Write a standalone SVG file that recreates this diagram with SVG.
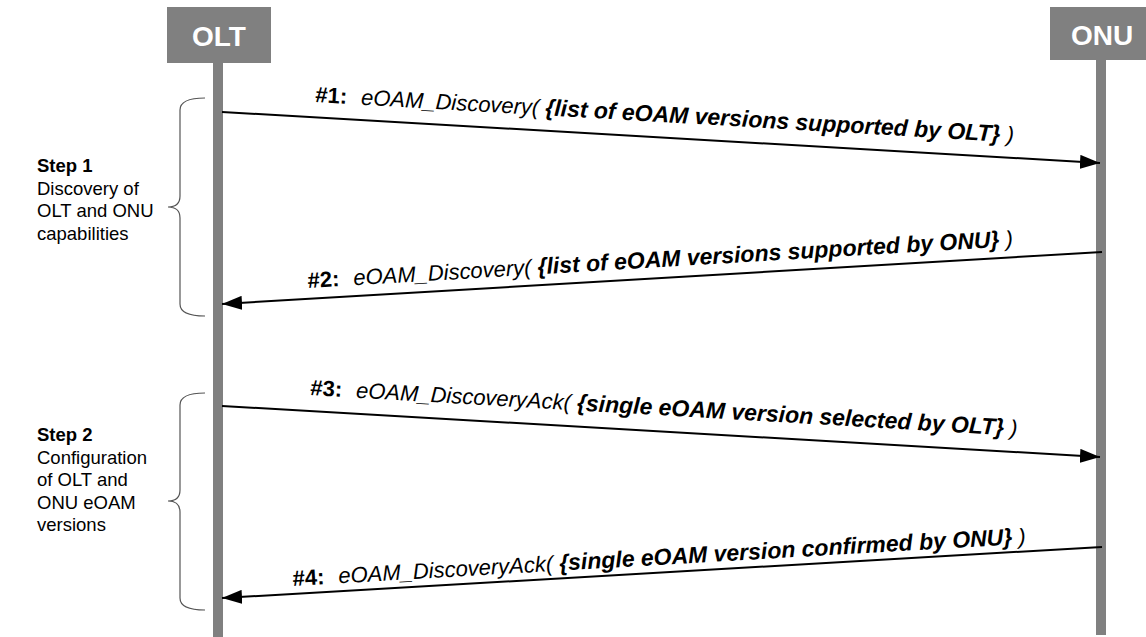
<svg xmlns="http://www.w3.org/2000/svg" width="1146" height="637" viewBox="0 0 1146 637">
<defs>
<style>
.hdr{fill:#808080}
.hdrt{fill:#fff;font-family:"Liberation Sans",Arial,sans-serif;font-weight:bold;font-size:28px;text-anchor:middle}
.life{fill:#808080}
.msg{stroke:#000;stroke-width:2;fill:none;marker-end:url(#ah)}
.brace{stroke:#555;stroke-width:1.2;fill:none}
.st{font-family:"Liberation Sans",Arial,sans-serif;font-size:18.5px;fill:#000}
.mt{font-family:"Liberation Sans",Arial,sans-serif;font-size:22px;fill:#000;font-style:italic}
.b{font-weight:bold;font-size:23px}
.n{font-weight:bold;font-style:normal}
.sb{font-weight:bold}
</style>
<marker id="ah" markerWidth="22" markerHeight="14" refX="20" refY="7" orient="auto" markerUnits="userSpaceOnUse">
<path d="M0,0 L20,7 L0,14 Z" fill="#000"/>
</marker>
</defs>
<g id="olt">
<rect class="life" x="213" y="60" width="10" height="577"/>
<rect class="hdr" x="167" y="7" width="104" height="56"/>
<text class="hdrt" x="219" y="46">OLT</text>
</g>
<g id="onu">
<rect class="life" x="1096" y="58" width="10" height="577"/>
<rect class="hdr" x="1050" y="7" width="100" height="53"/>
<text class="hdrt" x="1102" y="45">ONU</text>
</g>
<g id="step1">
<path class="brace" d="M205,98 Q180,98 180,110 L180,196 Q180,207 168,207 Q180,207 180,218 L180,304 Q180,316 205,316"/>
<text class="st" x="37" y="172"><tspan class="sb">Step 1</tspan><tspan x="37" dy="22.5">Discovery of</tspan><tspan x="37" dy="22.5">OLT and ONU</tspan><tspan x="37" dy="22.5">capabilities</tspan></text>
</g>
<g id="step2">
<path class="brace" d="M205,393 Q180,393 180,405 L180,490 Q180,501 168,501 Q180,501 180,512 L180,598 Q180,610 205,610"/>
<text class="st" x="37" y="441"><tspan class="sb">Step 2</tspan><tspan x="37" dy="22.5">Configuration</tspan><tspan x="37" dy="22.5">of OLT and</tspan><tspan x="37" dy="22.5">ONU eOAM</tspan><tspan x="37" dy="22.5">versions</tspan></text>
</g>
<g id="connectors">
<line class="msg" x1="222" y1="112" x2="1100" y2="163"/>
<line class="msg" x1="1102" y1="252" x2="222" y2="304"/>
<line class="msg" x1="222" y1="406" x2="1100" y2="457"/>
<line class="msg" x1="1102" y1="547" x2="222" y2="598"/>
</g>
<g id="labels">
<text class="mt" transform="translate(315,102) rotate(3.3)"><tspan class="n">#1:</tspan><tspan dx="14">eOAM_Discovery( </tspan><tspan class="b">{list of eOAM versions supported by OLT}</tspan> )</text>
<text class="mt" transform="translate(308,288) rotate(-3.4)"><tspan class="n">#2:</tspan><tspan dx="14">eOAM_Discovery( </tspan><tspan class="b">{list of eOAM versions supported by ONU}</tspan> )</text>
<text class="mt" transform="translate(310,395) rotate(3.3)"><tspan class="n">#3:</tspan><tspan dx="14">eOAM_DiscoveryAck( </tspan><tspan class="b">{single eOAM version selected by OLT}</tspan> )</text>
<text class="mt" transform="translate(293,586) rotate(-3.3)"><tspan class="n">#4:</tspan><tspan dx="14">eOAM_DiscoveryAck( </tspan><tspan class="b">{single eOAM version confirmed by ONU}</tspan> )</text>
</g>
</svg>
